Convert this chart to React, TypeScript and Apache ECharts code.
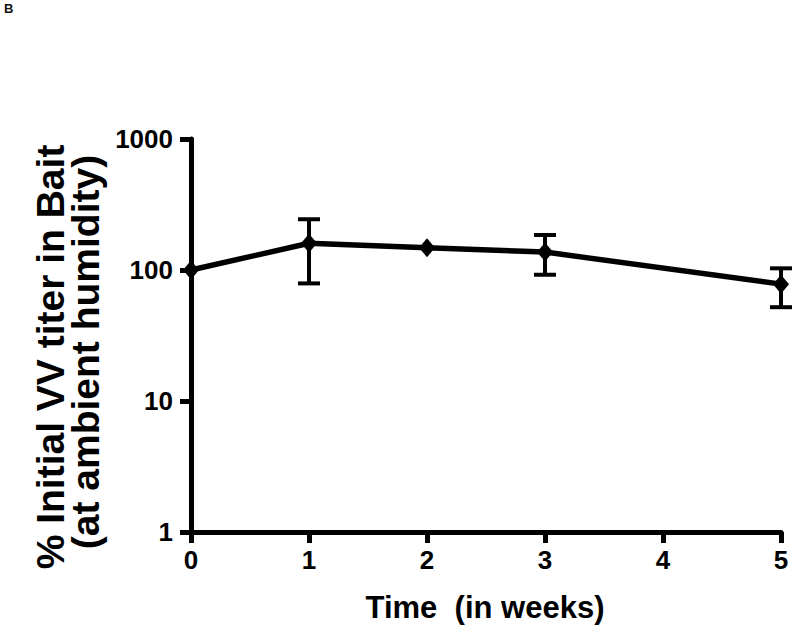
import React, { useEffect, useRef } from "react";
import * as echarts from "echarts";

const weeks = [0, 1, 2, 3, 5];
const titerMean = [100, 160, 148, 137, 78];
const errLow = [100, 79, 148, 92, 52];
const errHigh = [100, 244, 148, 185, 103];
const yTicks = [1, 10, 100, 1000];
const panelLabel = "B";
const xTitle = "Time  (in weeks)";
const yTitle1 = "% Initial VV titer in Bait";
const yTitle2 = "(at ambient humidity)";

const FONT = "'Liberation Sans', Arial, Helvetica, sans-serif";

export default function App() {
  const ref = useRef<HTMLDivElement>(null);
  useEffect(() => {
    if (!ref.current) return;
    const chart = echarts.init(ref.current, null, { renderer: "svg" });
    const errData = weeks
      .map((w, i) => [w, errLow[i], errHigh[i]])
      .filter((d) => d[1] !== d[2]);
    chart.setOption({
      animation: false,
      backgroundColor: "#fff",
      graphic: [
        {
          type: "text",
          x: 4,
          y: 2,
          style: {
            text: panelLabel,
            fontFamily: FONT,
            fontWeight: "bold",
            fontSize: 13,
            fill: "#111",
            align: "left",
            verticalAlign: "top",
          },
        },
        {
          type: "text",
          x: 485,
          y: 607,
          style: {
            text: xTitle,
            fontFamily: FONT,
            fontWeight: "bold",
            fontSize: 31,
            fill: "#000",
            align: "center",
            verticalAlign: "middle",
          },
        },
        {
          type: "text",
          x: 50,
          y: 357,
          rotation: Math.PI / 2,
          style: {
            text: yTitle1,
            fontFamily: FONT,
            fontWeight: "bold",
            fontSize: 39,
            fill: "#000",
            align: "center",
            verticalAlign: "middle",
          },
        },
        {
          type: "text",
          x: 85,
          y: 352,
          rotation: Math.PI / 2,
          style: {
            text: yTitle2,
            fontFamily: FONT,
            fontWeight: "bold",
            fontSize: 39,
            fill: "#000",
            align: "center",
            verticalAlign: "middle",
          },
        },
      ],
      grid: { left: 191, right: 19, top: 139, bottom: 100 },
      xAxis: {
        type: "value",
        min: 0,
        max: 5,
        interval: 1,
        axisLine: { onZero: false, lineStyle: { color: "#000", width: 5 } },
        axisTick: { show: true, length: 11, lineStyle: { color: "#000", width: 5 } },
        axisLabel: { fontFamily: FONT, fontWeight: "bold", fontSize: 26, color: "#000", margin: 15 },
        splitLine: { show: false },
      },
      yAxis: {
        type: "log",
        logBase: 10,
        min: yTicks[0],
        max: yTicks[yTicks.length - 1],
        axisLine: { lineStyle: { color: "#000", width: 5 } },
        axisTick: { show: true, length: 11, lineStyle: { color: "#000", width: 5 } },
        minorTick: { show: false },
        axisLabel: {
          fontFamily: FONT,
          fontWeight: "bold",
          fontSize: 26,
          color: "#000",
          margin: 18,
          formatter: (v: number) => String(Math.round(v)),
        },
        splitLine: { show: false },
      },
      series: [
        {
          type: "custom",
          data: errData,
          z: 3,
          renderItem: (params: any, api: any) => {
            const x = api.value(0);
            const lo = api.coord([x, api.value(1)]);
            const hi = api.coord([x, api.value(2)]);
            const hw = 11;
            const st = { stroke: "#000", lineWidth: 4 };
            return {
              type: "group",
              children: [
                { type: "line", shape: { x1: lo[0], y1: lo[1], x2: hi[0], y2: hi[1] }, style: st },
                { type: "line", shape: { x1: lo[0] - hw, y1: lo[1], x2: lo[0] + hw, y2: lo[1] }, style: st },
                { type: "line", shape: { x1: hi[0] - hw, y1: hi[1], x2: hi[0] + hw, y2: hi[1] }, style: st },
              ],
            };
          },
        },
        {
          type: "line",
          data: weeks.map((w, i) => [w, titerMean[i]]),
          symbol: "diamond",
          symbolSize: [16, 19],
          z: 4,
          itemStyle: { color: "#000" },
          lineStyle: { color: "#000", width: 5.5 },
        },
      ],
    });
    return () => chart.dispose();
  }, []);
  return (
    <div
      ref={ref}
      style={{ position: "absolute", left: 0, top: 0, width: 800, height: 632 }}
    />
  );
}
